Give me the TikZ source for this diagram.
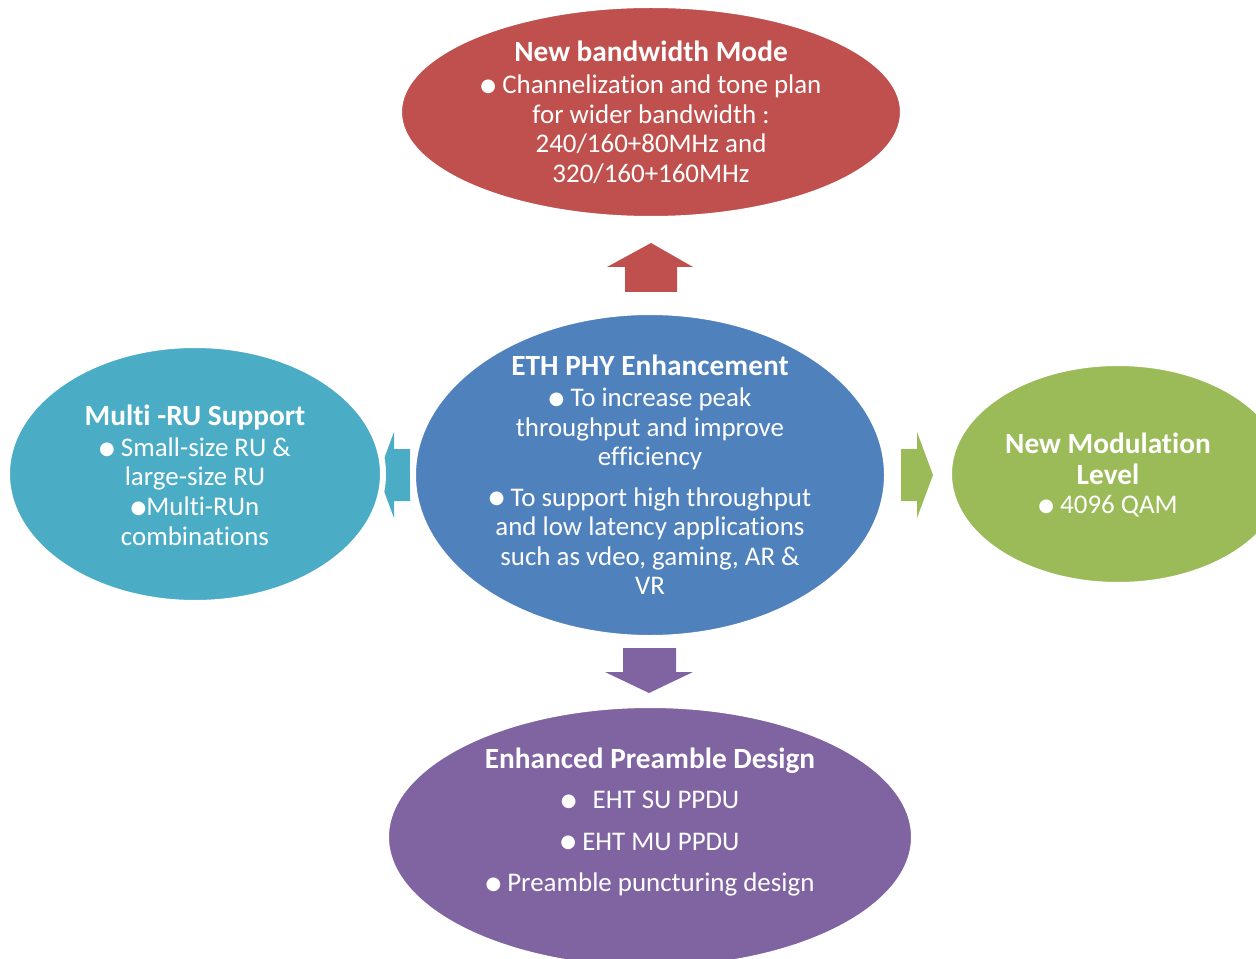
\documentclass[tikz,border=0pt]{standalone}
\usepackage{fontspec}
\setmainfont{Carlito}[Ligatures=NoCommon]
\newfontfamily\dejavu{DejaVu Sans}
\usetikzlibrary{shapes.geometric}
\definecolor{bwred}{HTML}{C0504D}
\definecolor{bwblue}{HTML}{4F81BD}
\definecolor{bwteal}{HTML}{4BACC6}
\definecolor{bwgreen}{HTML}{9BBB59}
\definecolor{bwpurple}{HTML}{8064A2}
\newcommand\bul{\raisebox{1.6pt}{\dejavu\fontsize{13.5}{13.5}\selectfont ●}}
\newcommand\ttl[1]{{\fontsize{22}{22.5}\selectfont\bfseries #1}}
\begin{document}
\begin{tikzpicture}[x=0.75pt,y=-0.75pt,
  bubble/.style={ellipse, draw=white, line width=4.5pt, inner sep=0pt},
  bubbletext/.style={text=white, align=center, inner sep=0pt,
    font=\fontsize{20.2}{22.2}\selectfont}]
\useasboundingbox (0,0) rectangle (1256,959);
% block arrows
\fill[bwred] (625,292) -- (625,267) -- (607,267) -- (651,243) -- (693,267) -- (677,267) -- (677,292) -- cycle;
\fill[bwgreen] (901,449) -- (917,449) -- (917,432) -- (933,475) -- (917,518) -- (917,501) -- (901,501) -- cycle;
\fill[bwteal] (410,449) -- (394,449) -- (394,432) -- (378,475) -- (394,518) -- (394,501) -- (410,501) -- cycle;
\fill[bwpurple] (623,648) -- (676,648) -- (676,672) -- (693,672) -- (649,693) -- (605,672) -- (623,672) -- cycle;
% ellipses
\node[bubble, fill=bwred, minimum width=378pt, minimum height=160.5pt] (bw) at (651,112) {};
\node[bubble, fill=bwblue, minimum width=355.5pt, minimum height=244.5pt] (eth) at (650,475) {};
\node[bubble, fill=bwteal, minimum width=282pt, minimum height=193.5pt] (mru) at (195,474) {};
\node[bubble, fill=bwgreen, minimum width=253.5pt, minimum height=166.5pt] (mod) at (1118,474) {};
\node[bubble, fill=bwpurple, minimum width=396pt, minimum height=198pt] (pre) at (650,837) {};
% texts
\node[bubbletext] (bwt) at (651,112) {\ttl{New bandwidth Mode}\\[2pt]
  \bul{} Channelization and tone plan\\ for wider bandwidth :\\ 240/160+80MHz and\\ 320/160+160MHz};
\node[bubbletext] (etht) at (650,475) {\ttl{ETH PHY Enhancement}\\[1pt]
  \bul{} To increase peak\\ throughput and improve\\ efficiency\\[8pt]
  \bul{} To support high throughput\\ and low latency applications\\ such as vdeo, gaming, AR \&\\ VR};
\node[bubbletext] (mrut) at (195,475) {\ttl{Multi -RU Support}\\[1pt]
  \bul{} Small-size RU \&\\ large-size RU\\ \bul{}Multi-RUn\\ combinations};
\node[bubbletext] (modt) at (1108,475) {\ttl{New Modulation}\\[1pt] \ttl{Level}\\ \bul{} 4096 QAM};
\node[bubbletext] (pret) at (650,822) {\ttl{Enhanced Preamble Design}\\[8pt]
  \bul{}\hspace{0.6em}EHT SU PPDU\\[9pt] \bul{} EHT MU PPDU\\[9pt] \bul{} Preamble puncturing design};
\end{tikzpicture}
\end{document}
